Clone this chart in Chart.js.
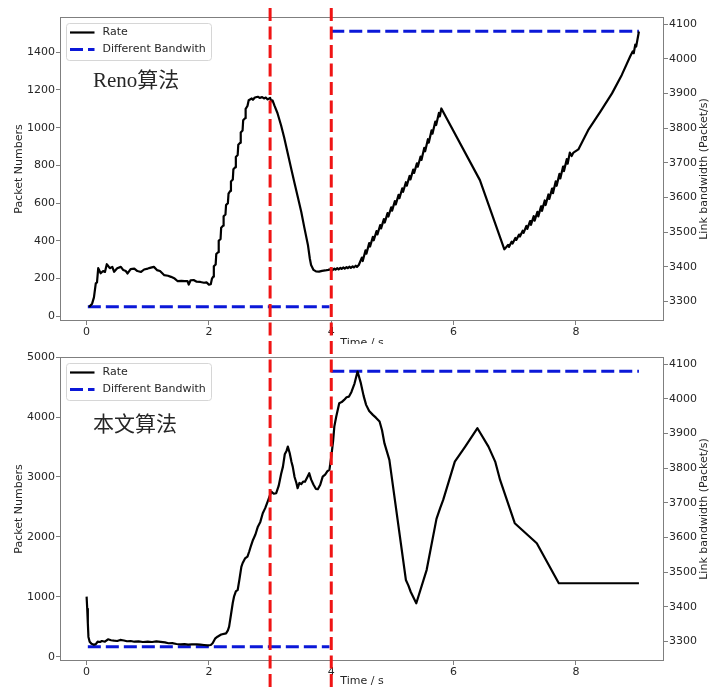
<!DOCTYPE html>
<html>
<head>
<meta charset="utf-8">
<script src="https://cdn.jsdelivr.net/npm/chart.js@4.4.1/dist/chart.umd.min.js"></script>
<style>
body{margin:0;background:#fff;}
#wrap{position:relative;width:709px;height:690px;overflow:hidden;background:#fff;}
#topBox{position:absolute;left:0;top:0;width:709px;height:344px;overflow:hidden;}
#bottomBox{position:absolute;left:0;top:344px;width:709px;height:346px;overflow:hidden;}
canvas{display:block;}
</style>
</head>
<body>
<div id="wrap">
  <div id="topBox"><canvas id="renoChart" width="709" height="350"></canvas></div>
  <div id="bottomBox"><canvas id="oursChart" width="709" height="346"></canvas></div>
</div>
<script>
const timeTicks = [0, 2, 4, 6, 8];
const renoTicks = [0, 200, 400, 600, 800, 1000, 1200, 1400];
const oursTicks = [0, 1000, 2000, 3000, 4000, 5000];
const bandTicks = [3300, 3400, 3500, 3600, 3700, 3800, 3900, 4000, 4100];
const markerTimes = [3, 4];
const seriesNames = ['Rate', 'Different Bandwith'];
const panelNames = ['Reno算法', '本文算法'];
const axisTitles = ['Time / s', 'Packet Numbers', 'Link bandwidth (Packet/s)'];

// link bandwidth (right axis), gap between the two levels
const bandTime = [0.02, 3.97, 3.985, 4.00, 9.03];
const bandValue = [3285, 3285, null, 4080, 4080];

// Reno rate: [time, packets]
const renoRate = [
  [0.04,49],[0.09,67],[0.12,100],[0.15,175],[0.17,180],[0.19,255],[0.23,228],[0.27,240],[0.30,235],
  [0.33,276],[0.38,255],[0.42,262],[0.45,236],[0.50,255],[0.56,262],[0.60,245],[0.64,240],[0.67,227],
  [0.72,250],[0.78,253],[0.83,240],[0.89,235],[0.94,248],[1.00,253],[1.05,258],[1.10,262],[1.15,245],
  [1.20,240],[1.27,218],[1.33,215],[1.38,209],[1.44,200],[1.49,186],[1.55,188],[1.60,186],[1.65,186],
  [1.67,168],[1.70,191],[1.75,192],[1.80,183],[1.86,182],[1.92,178],[1.96,180],[2.00,168],[2.03,170],
  [2.05,200],[2.07,210],[2.08,265],[2.11,275],[2.12,330],[2.15,340],[2.16,400],[2.19,410],[2.20,470],
  [2.23,480],[2.24,530],[2.27,540],[2.28,590],[2.31,600],[2.32,650],[2.35,665],[2.36,715],[2.39,725],
  [2.40,780],[2.43,790],[2.44,845],[2.47,855],[2.48,910],[2.51,920],[2.52,975],[2.55,985],[2.56,1040],
  [2.59,1050],[2.60,1100],[2.63,1115],[2.65,1146],[2.70,1155],[2.72,1148],[2.75,1160],[2.80,1164],
  [2.83,1158],[2.87,1162],[2.90,1155],[2.93,1160],[2.96,1150],[3.00,1158],[3.02,1140],[3.04,1145],
  [3.07,1118],[3.12,1078],[3.18,1012],[3.23,948],[3.29,862],[3.35,776],[3.40,706],[3.45,636],[3.51,553],
  [3.56,470],[3.62,375],[3.65,305],[3.67,272],[3.71,246],[3.75,238],[3.80,237],[3.85,241],[3.90,243],
  [3.95,246],[4.00,250],[4.02,244],[4.05,253],[4.07,247],[4.10,255],[4.12,249],[4.15,257],[4.17,251],
  [4.20,259],[4.22,253],[4.25,261],[4.27,255],[4.30,263],[4.32,257],[4.35,265],[4.37,259],[4.40,268],
  [4.42,262],[4.45,272],
  [4.50,311],[4.515,293],[4.56,350],[4.575,332],[4.62,388],[4.635,370],[4.68,421],[4.695,403],
  [4.74,452],[4.755,434],[4.80,484],[4.815,466],[4.86,515],[4.875,497],[4.92,547],[4.935,529],
  [4.98,578],[4.995,560],[5.04,611],[5.055,593],[5.10,644],[5.115,626],[5.16,678],[5.175,660],
  [5.22,711],[5.235,693],[5.28,744],[5.295,726],[5.34,778],[5.355,760],[5.40,811],[5.415,793],
  [5.46,847],[5.475,829],[5.52,893],[5.535,875],[5.58,939],[5.595,921],[5.64,986],[5.655,968],
  [5.70,1032],[5.715,1014],[5.76,1078],[5.775,1060],[5.80,1102],
  [6.43,722],[6.83,355],
  [6.89,378],[6.905,368],[6.95,396],[6.965,386],[7.01,415],[7.025,405],[7.07,433],[7.085,423],
  [7.13,454],[7.145,442],[7.19,479],[7.205,463],[7.25,505],[7.265,485],[7.31,531],[7.325,507],
  [7.37,554],[7.385,530],[7.43,583],[7.445,559],[7.49,614],[7.505,590],[7.55,646],[7.565,622],
  [7.61,677],[7.625,653],[7.67,716],[7.685,692],[7.73,755],[7.745,731],[7.79,794],[7.805,770],
  [7.85,833],[7.865,809],[7.90,868],[7.93,850],[7.96,868],[8.04,885],[8.20,987],[8.40,1085],
  [8.59,1182],[8.75,1280],[8.89,1380],[8.93,1405],[8.945,1395],[8.97,1440],[8.985,1430],[9.03,1510]
];

// proposed algorithm rate: [time, packets]
const oursRate = [
  [0.00,1002],[0.01,800],[0.02,560],[0.03,330],[0.05,250],[0.08,215],[0.12,198],[0.15,210],[0.18,250],
  [0.22,245],[0.25,262],[0.30,250],[0.35,290],[0.40,275],[0.45,267],[0.50,262],[0.55,280],[0.61,270],
  [0.66,258],[0.72,262],[0.78,250],[0.85,255],[0.92,245],[1.00,250],[1.07,245],[1.14,255],[1.21,248],
  [1.28,238],[1.34,224],[1.40,226],[1.47,212],[1.54,207],[1.60,210],[1.66,200],[1.72,207],[1.80,205],
  [1.86,200],[1.92,195],[1.98,190],[2.03,195],[2.06,224],[2.10,300],[2.14,334],[2.20,370],[2.28,390],
  [2.31,440],[2.33,501],[2.36,700],[2.39,900],[2.41,1002],[2.44,1090],[2.47,1114],[2.50,1300],
  [2.53,1500],[2.55,1560],[2.59,1640],[2.63,1670],[2.66,1760],[2.69,1860],[2.72,1949],[2.76,2040],
  [2.80,2171],[2.84,2250],[2.88,2395],[2.92,2480],[2.96,2589],[3.00,2700],[3.02,2756],[3.06,2720],
  [3.10,2729],[3.14,2850],[3.18,3050],[3.21,3173],[3.24,3380],[3.27,3440],[3.29,3507],[3.32,3400],
  [3.35,3250],[3.37,3173],[3.40,3000],[3.43,2900],[3.45,2812],[3.48,2900],[3.51,2880],[3.54,2923],
  [3.57,2920],[3.61,3000],[3.64,3062],[3.67,2960],[3.71,2870],[3.75,2800],[3.78,2795],[3.82,2870],
  [3.86,3006],[3.90,3040],[3.94,3100],[3.97,3118],[4.00,3340],[4.03,3600],[4.05,3841],[4.08,4000],
  [4.13,4232],[4.17,4250],[4.21,4287],[4.25,4330],[4.29,4342],[4.33,4420],[4.38,4560],[4.43,4760],
  [4.48,4580],[4.53,4350],[4.57,4204],[4.62,4100],[4.68,4037],[4.73,3990],[4.79,3925],[4.83,3780],
  [4.87,3560],[4.95,3285],[5.22,1281],[5.26,1190],[5.30,1080],[5.39,892],[5.56,1450],[5.72,2300],
  [5.78,2480],[5.83,2617],[6.02,3257],[6.19,3507],[6.39,3814],[6.57,3507],[6.68,3257],[6.76,2951],
  [7.00,2228],[7.36,1893],[7.72,1226],[9.03,1226]
];

const textColor = '#262626';
const baseFont = {family: '"DejaVu Sans"', size: 11};

const decoPlugin = {
  id: 'deco',
  afterDraw(chart, args, o) {
    const ctx = chart.ctx;
    const a = chart.chartArea;
    ctx.save();
    // axes frame
    ctx.strokeStyle = '#7f7f7f';
    ctx.lineWidth = 1;
    ctx.strokeRect(Math.round(a.left) + 0.5, Math.round(a.top) + 0.5,
      Math.round(a.right - a.left) - 1, Math.round(a.bottom - a.top) - 1);

    // right axis title, reads bottom to top
    ctx.save();
    ctx.fillStyle = textColor;
    ctx.font = '11px "DejaVu Sans"';
    ctx.textAlign = 'center';
    ctx.textBaseline = 'middle';
    ctx.translate(704.5, (a.top + a.bottom) / 2);
    ctx.rotate(-Math.PI / 2);
    ctx.fillText(axisTitles[2], 0, 0);
    ctx.restore();

    // legend box
    const lx = a.left + 6.5, ly = a.top + 6.5, lw = 145, lh = 37;
    ctx.beginPath();
    ctx.roundRect(lx, ly, lw, lh, 3);
    ctx.fillStyle = 'rgba(255,255,255,0.8)';
    ctx.fill();
    ctx.strokeStyle = '#d6d6d6';
    ctx.stroke();
    ctx.font = '11px "DejaVu Sans"';
    ctx.textBaseline = 'middle';
    ctx.textAlign = 'left';
    chart.data.datasets.forEach((ds, i) => {
      const yy = ly + 9 + i * 17;
      ctx.beginPath();
      ctx.setLineDash(ds.borderDash || []);
      ctx.lineWidth = ds.borderWidth;
      ctx.strokeStyle = ds.borderColor;
      ctx.moveTo(lx + 3.5, yy);
      ctx.lineTo(lx + 28, yy);
      ctx.stroke();
      ctx.setLineDash([]);
      ctx.fillStyle = textColor;
      ctx.fillText(ds.label, lx + 36, yy);
    });

    // panel name
    ctx.font = '21px "Liberation Serif", "Noto Sans CJK SC"';
    ctx.textBaseline = 'alphabetic';
    ctx.fillStyle = textColor;
    ctx.fillText(o.name, a.left + 33, 87);

    // red markers across both panels
    ctx.strokeStyle = '#f01414';
    ctx.lineWidth = 3;
    ctx.setLineDash([13, 5.5]);
    markerTimes.forEach(t => {
      const x = chart.scales.x.getPixelForValue(t);
      ctx.beginPath();
      ctx.moveTo(x, 8 - o.offsetY);
      ctx.lineTo(x, 690 - o.offsetY);
      ctx.stroke();
    });
    ctx.restore();
  }
};

function tickSetter(list) {
  return s => { s.ticks = list.map(v => ({value: v})); };
}

function makeChart(id, rate, leftTicks, leftMin, leftMax, padTop, titlePad, name, offsetY) {
  return new Chart(document.getElementById(id), {
    type: 'line',
    data: {
      datasets: [
        {
          label: seriesNames[0],
          data: rate.map(p => ({x: p[0], y: p[1]})),
          yAxisID: 'y',
          borderColor: '#000000',
          borderWidth: 2.2,
          borderJoinStyle: 'round',
          pointRadius: 0,
          tension: 0,
          fill: false
        },
        {
          label: seriesNames[1],
          data: bandTime.map((t, i) => ({x: t, y: bandValue[i]})),
          yAxisID: 'y1',
          borderColor: '#0b18d8',
          borderWidth: 3,
          borderDash: [13, 5],
          pointRadius: 0,
          tension: 0,
          spanGaps: false,
          fill: false
        }
      ]
    },
    options: {
      responsive: false,
      animation: false,
      devicePixelRatio: 1,
      layout: {padding: {top: padTop, left: 0, right: 0, bottom: 0}},
      plugins: {
        legend: {display: false},
        tooltip: {enabled: false},
        deco: {name: name, offsetY: offsetY}
      },
      scales: {
        x: {
          type: 'linear',
          min: -0.435,
          max: 9.44,
          afterBuildTicks: tickSetter(timeTicks),
          afterFit: s => { s.height = 29; },
          grid: {drawOnChartArea: false, drawTicks: true, tickLength: 4, color: '#7f7f7f'},
          border: {display: false},
          ticks: {color: textColor, font: baseFont, padding: 1, maxRotation: 0, callback: v => String(v)},
          title: {display: true, text: axisTitles[0], color: textColor,
                  font: {family: '"DejaVu Sans"', size: 11, lineHeight: 1.2}, padding: {top: 0, bottom: titlePad}}
        },
        y: {
          type: 'linear',
          position: 'left',
          min: leftMin,
          max: leftMax,
          afterBuildTicks: tickSetter(leftTicks),
          afterFit: s => { s.width = 60; },
          grid: {drawOnChartArea: false, drawTicks: true, tickLength: 4, color: '#7f7f7f'},
          border: {display: false},
          ticks: {color: textColor, font: baseFont, padding: 1, callback: v => String(v)},
          title: {display: true, text: axisTitles[1], color: textColor,
                  font: {family: '"DejaVu Sans"', size: 11, lineHeight: 1}, padding: {top: 14, bottom: 0}}
        },
        y1: {
          type: 'linear',
          position: 'right',
          min: 3244,
          max: 4121,
          afterBuildTicks: tickSetter(bandTicks),
          afterFit: s => { s.width = 45; },
          grid: {drawOnChartArea: false, drawTicks: true, tickLength: 4, color: '#7f7f7f'},
          border: {display: false},
          ticks: {color: textColor, font: baseFont, padding: 1, callback: v => String(v)}
        }
      }
    },
    plugins: [decoPlugin]
  });
}

makeChart('renoChart', renoRate, renoTicks, -25, 1587, 17, 0, panelNames[0], 0);
makeChart('oursChart', oursRate, oursTicks, -72, 5003, 13, 2, panelNames[1], 344);
</script>
</body>
</html>
